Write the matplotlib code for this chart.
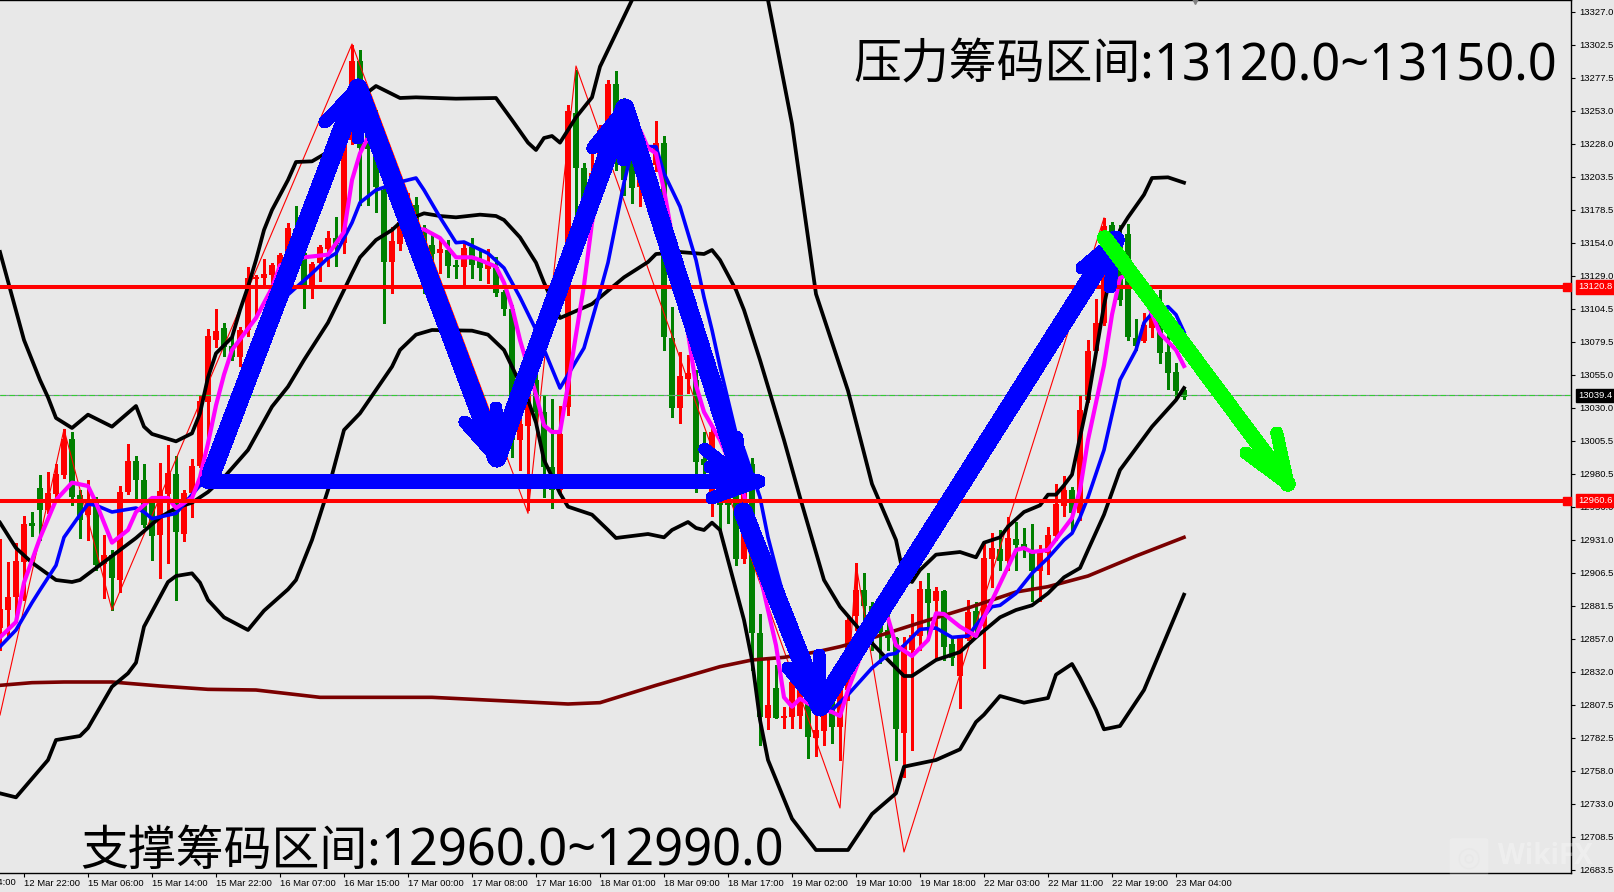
import matplotlib
matplotlib.use("Agg")
import matplotlib.pyplot as plt
from matplotlib.patches import FancyBboxPatch

plt.rcParams["font.family"] = ["Noto Sans CJK SC", "DejaVu Sans"]

# candles, one per bar (4h chart)
opens = [12865, 12878.5, 12888, 12914.5, 12944, 12970, 12953.5, 12965.5, 12980, 13007,
         12965, 12950, 12959, 12913, 12920, 12901, 12967, 12990, 12976, 12959,
         12935, 12965.5, 12980.5, 12935.5, 12966, 12986.5, 13034.5, 13081, 13090, 13076.5,
         13068, 13088.5, 13127, 13127.5, 13130, 13136, 13145, 13164, 13146, 13121.5,
         13139, 13149, 13157.5, 13154, 13231, 13290, 13238.5, 13223.5, 13193.5, 13139.5,
         13153, 13169, 13182, 13165, 13152, 13146, 13148.5, 13137, 13136, 13150.5,
         13141, 13134, 13136, 13117, 13104, 13006, 13016.5, 13051, 13027, 12986,
         12968.5, 13031, 13251, 13210, 13200, 13206, 13233, 13273, 13259.5, 13252,
         13196, 13208.5, 13212, 13229, 13082.5, 13030, 13052, 13051, 12992, 12961,
         12976, 12976, 12965, 12917, 12988, 12861, 12797.5, 12820, 12797.5, 12798,
         12799, 12809, 12782.5, 12788, 12811, 12791, 12818.5, 12874, 12893.5, 12881.5,
         12876, 12863.5, 12857.5, 12786, 12848.5, 12859, 12894, 12885, 12893, 12853,
         12829, 12857, 12878, 12866.5, 12917, 12924, 12915, 12932, 12928, 12921,
         12908, 12921, 12934, 12956.5, 12968.5, 12951, 13036, 13073, 13094, 13167,
         13160, 13160.5, 13082.5, 13080, 13090, 13094.5, 13072, 13057, 13043.5]
highs = [12932, 12914.5, 12929, 12949, 12952, 12980, 12982, 12988, 13014, 13012,
         12968.5, 12976, 12963, 12935, 12923.5, 12971.5, 13003, 12994, 12988, 12963,
         12989, 13002, 12994, 12968.5, 12992, 13040, 13089, 13104, 13094, 13085,
         13091, 13136, 13130, 13142, 13139, 13146, 13169, 13181.5, 13147, 13139.5,
         13152, 13163, 13173, 13235, 13302, 13298.5, 13266, 13253.5, 13196, 13166,
         13172.5, 13191, 13188, 13167, 13160, 13156, 13156, 13141, 13154, 13157.5,
         13148.5, 13149, 13143, 13118.5, 13107, 13027, 13049, 13058.5, 13039, 13037,
         13031.5, 13257, 13283.5, 13214, 13221, 13242, 13276, 13283, 13262.5, 13257,
         13231, 13220, 13245, 13234, 13106, 13072, 13070, 13058.5, 13012, 13017,
         12983.5, 12983.5, 12972, 12995, 12992.5, 12875.5, 12841, 12837, 12806, 12831,
         12826, 12818.5, 12800, 12811, 12818.5, 12833.5, 12875, 12914, 12906, 12884.5,
         12884, 12878.5, 12858, 12858, 12875.5, 12900, 12906, 12896, 12893.5, 12858,
         12860, 12886, 12884.5, 12930, 12936, 12938.5, 12948, 12944.5, 12940, 12943,
         12927, 12941, 12973, 12979, 12971, 13040, 13081, 13112, 13172.5, 13169.5,
         13167, 13168, 13097, 13101, 13107, 13118.5, 13086, 13064, 13045]
lows = [12848.5, 12858, 12869.5, 12886, 12934, 12931, 12951, 12961, 12977.5, 12957,
        12932.5, 12931, 12908.5, 12887.5, 12878.5, 12892, 12965.5, 12961, 12940.5, 12916,
        12902.5, 12914, 12886, 12930, 12948, 12986, 13003.5, 13076, 13069, 13066,
        13061.5, 13084, 13098, 13121, 13121, 13126, 13141, 13146, 13105, 13112.5,
        13125, 13136.5, 13136.5, 13146, 13228, 13182, 13182, 13177, 13094, 13116,
        13148.5, 13166, 13158, 13116, 13124, 13131, 13128, 13127.5, 13122, 13127.5,
        13126, 13124, 13114, 13100, 12993, 12983.5, 12953.5, 13017, 12963, 12955,
        12967, 13025, 13172.5, 13169, 13173, 13201, 13229, 13208.5, 13190, 13184,
        13181.5, 13206, 13208, 13073.5, 13023, 13019, 13041, 12967, 12981, 12949,
        12938.5, 12944, 12912, 12914, 12833.5, 12777, 12789, 12797.5, 12790, 12790,
        12790, 12767.5, 12769, 12777, 12779, 12766, 12811, 12863.5, 12856, 12848.5,
        12839, 12848.5, 12766, 12753, 12773.5, 12848.5, 12856, 12841, 12841, 12837,
        12805, 12856, 12858, 12835, 12895.5, 12908.5, 12908.5, 12908.5, 12918, 12885,
        12885, 12905.5, 12931, 12949, 12938.5, 12946, 13034.5, 13072, 13092, 13118.5,
        13107, 13081, 13073.5, 13079.5, 13083, 13064, 13044, 13038, 13037]
closes = [12879, 12888, 12915, 12943, 12941.5, 12953.5, 12966, 12980.5, 13007, 12963,
          12946, 12959, 12912, 12920, 12902.5, 12967, 12990, 12976, 12942, 12934,
          12967.5, 12981, 12937, 12966, 12986.5, 13035, 13084, 13088, 13076, 13068,
          13088.5, 13127.5, 13128, 13130.5, 13137, 13145, 13165, 13148.5, 13122, 13138,
          13151, 13157.5, 13153, 13231, 13290, 13225, 13224, 13196, 13139.5, 13155,
          13169.5, 13184, 13163.5, 13151.5, 13145.5, 13149, 13136.5, 13136, 13150, 13137,
          13135, 13139, 13116, 13104, 13006, 13018, 13041, 13027, 12986, 12968.5,
          13010.5, 13253, 13210, 13187, 13206, 13238.5, 13273, 13223.5, 13201, 13195,
          13223.5, 13212, 13229, 13083, 13030, 13054, 13056, 12989.5, 12987, 13012,
          12957, 12957, 12917, 12989, 12861, 12798, 12807, 12797.5, 12799, 12824.5,
          12818.5, 12783, 12788.5, 12806, 12791, 12818.5, 12871, 12893.5, 12881.5, 12865,
          12862, 12857.5, 12789, 12852, 12860, 12894, 12884, 12893, 12851, 12842.5,
          12857.5, 12877, 12863.5, 12917.5, 12925, 12915, 12932.5, 12927, 12923.5, 12908,
          12922, 12935, 12958, 12968.5, 12951, 13028.5, 13073, 13094, 13166.5, 13126,
          13111, 13083, 13076.5, 13092, 13101, 13071, 13056, 13043, 13038]

# indicator lines, (bar, price) at the bends
band_upper_x = [0, 3, 5, 6, 7, 9, 11, 14, 17, 18, 19, 22, 24, 25, 26, 27, 29, 30, 31, 32, 33, 34, 36, 37,
                39, 41, 46, 47, 50, 52, 57, 62, 64, 66, 67, 68, 69, 70, 72, 74, 75, 76, 79, 85, 92, 96,
                99, 102, 106, 109, 112, 113, 114, 115, 117, 120, 122, 123, 125, 126, 128, 130, 131, 132,
                133, 134, 136, 138, 140, 141, 143, 144, 146, 148]
band_upper_y = [13147, 13081, 13051, 13038, 13022.5, 13015, 13025, 13016, 13031.5, 13016, 13010.5, 13005,
                13011, 13026, 13053, 13071, 13083, 13103.5, 13121, 13141, 13163.5, 13178.5, 13201, 13214.5,
                13215, 13222, 13267, 13271.5, 13262.5, 13263, 13262, 13262.5, 13246, 13229, 13223.5,
                13232.5, 13234, 13229, 13248, 13263, 13286, 13298.5, 13336, 13441, 13381, 13336,
                13243, 13115.5, 13043, 12973, 12931, 12903, 12899.5, 12908.5, 12920, 12922, 12918, 12929,
                12933, 12941, 12952, 12957, 12965, 12965, 12972, 12980, 13036, 13107, 13163.5, 13173,
                13190, 13202.5, 13203, 13199]
band_mid_x = [0, 2, 4, 7, 9, 10, 13, 17, 20, 22, 24, 26, 28, 31, 34, 36, 38, 41, 43, 44, 45, 47, 49, 50,
              53, 55, 57, 60, 62, 63, 65, 67, 68, 70, 74, 78, 81, 82, 85, 88, 89, 90, 92, 93, 95, 98, 100,
              103, 105, 108, 111, 113, 114, 117, 120, 122, 125, 127, 129, 131, 133, 135, 136, 138, 140,
              144, 147, 148]
band_mid_y = [12944, 12925, 12914, 12901, 12899.5, 12901, 12914.5, 12932.5, 12948, 12955, 12959, 12967,
              12978, 12998.5, 13031, 13046, 13066, 13094, 13118.5, 13131, 13143, 13156, 13163.5, 13169,
              13176, 13174, 13173, 13175, 13174, 13171, 13158, 13139, 13124, 13097.5, 13108, 13128,
              13139.5, 13145.5, 13147, 13145.5, 13148.5, 13141, 13118.5, 13103.5, 13066, 13006, 12963,
              12901, 12881, 12860, 12841, 12829, 12829, 12841, 12847, 12858, 12873, 12878.5, 12882, 12891,
              12903, 12910, 12923.5, 12950, 12983.5, 13016, 13036, 13045]
band_lower_x = [0, 2, 6, 7, 10, 11, 14, 16, 17, 18, 21, 22, 24, 25, 26, 28, 31, 33, 36, 37, 39, 41, 43, 45,
                47, 49, 50, 52, 54, 59, 61, 63, 66, 67, 68, 70, 71, 74, 76, 77, 81, 83, 84, 86, 87, 88, 89,
                90, 92, 93, 94, 95, 96, 99, 102, 106, 109, 112, 113, 117, 120, 122, 123, 125, 128, 131, 132,
                134, 135, 137, 138, 140, 143, 148]
band_lower_y = [12741, 12738, 12766, 12781, 12784, 12790, 12821, 12831, 12839, 12866, 12899.5, 12904, 12906,
                12899, 12886, 12873, 12863.5, 12878, 12894, 12901, 12931, 12968.5, 13013.5, 13026, 13043.5,
                13061, 13073.5, 13085, 13088.5, 13088, 13085, 13073.5, 13036, 13019, 12991, 12966, 12956,
                12950, 12938.5, 12932.5, 12935.5, 12933, 12938.5, 12944.5, 12940, 12938.5, 12944, 12938.5,
                12893.5, 12871, 12841, 12796, 12766, 12722, 12698.5, 12698.5, 12725.5, 12741, 12761, 12766,
                12774, 12794.5, 12800, 12814, 12809, 12812.5, 12830, 12838, 12827.5, 12803.5, 12789, 12791.5,
                12818.5, 12890]
slow_ma_x = [0, 4, 8, 14, 20, 26, 32, 40, 54, 71, 75, 82, 90, 94, 98, 102, 105, 109, 115, 121, 127, 131,
             136, 142, 148]
slow_ma_y = [12822, 12824, 12824.5, 12824.5, 12821.5, 12819, 12818.5, 12813, 12813, 12808, 12809, 12822,
             12836, 12841, 12843, 12847, 12851, 12857.5, 12869, 12880, 12892, 12896, 12904, 12919, 12933]
fast_ma_x = [0, 2, 3, 5, 7, 9, 11, 12, 14, 16, 17, 19, 21, 22, 24, 25, 26, 27, 28, 29, 32, 34, 35, 38, 41,
             43, 44, 45, 46, 47, 49, 52, 53, 55, 57, 59, 60, 62, 63, 64, 65, 67, 68, 69, 70, 71, 72, 73,
             74, 76, 78, 80, 81, 82, 83, 85, 87, 88, 90, 93, 95, 96, 97, 98, 99, 100, 102, 104, 105, 106,
             108, 110, 111, 112, 114, 116, 117, 118, 120, 122, 123, 127, 128, 129, 131, 134, 135, 136,
             138, 139, 140, 141, 143, 145, 147, 148]
fast_ma_y = [12858, 12869.5, 12899, 12932.5, 12961, 12974, 12971.5, 12959, 12929, 12938.5, 12952, 12962.5,
             12962.5, 12955, 12962.5, 12978, 13003.5, 13032, 13055, 13073.5, 13097.5, 13120, 13137, 13143,
             13145, 13162, 13201, 13221, 13233, 13223.5, 13197, 13163.5, 13164, 13157.5, 13143, 13143,
             13141, 13136, 13124, 13106, 13081, 13040, 13017, 13012, 13012, 13047, 13085, 13122, 13169,
             13223.5, 13242, 13238.5, 13225, 13221, 13193.5, 13126, 13047, 13027, 13006, 12965, 12905,
             12878.5, 12852, 12813, 12806, 12812, 12805, 12802, 12799, 12818.5, 12851, 12871, 12872.5,
             12852, 12844, 12856, 12876, 12875.5, 12866, 12859, 12873, 12923.5, 12925, 12922, 12923.5,
             12947.5, 12968.5, 13006, 13062, 13100, 13127.5, 13130, 13115, 13086, 13073.5, 13061.5]
mid_ma_x = [0, 2, 4, 5, 7, 8, 10, 11, 12, 14, 17, 18, 19, 22, 25, 28, 32, 36, 39, 41, 42, 44, 45, 47, 50,
            52, 53, 55, 57, 58, 61, 63, 65, 67, 70, 73, 75, 76, 78, 79, 80, 82, 83, 85, 87, 88, 89, 90,
            91, 92, 93, 95, 96, 97, 98, 102, 104, 106, 109, 111, 112, 115, 117, 119, 121, 122, 124, 125,
            127, 129, 131, 133, 134, 135, 136, 138, 139, 140, 142, 143, 144, 146, 147, 148]
mid_ma_y = [12851, 12863.5, 12884, 12893.5, 12912, 12933, 12950, 12958, 12957, 12952, 12955, 12952, 12947,
            12951, 12972, 13013.5, 13073.5, 13115, 13131, 13142.5, 13146, 13169, 13184, 13193.5, 13199.5,
            13202.5, 13193.5, 13173, 13154, 13154.5, 13146, 13135, 13113, 13088.5, 13045, 13075, 13117,
            13139, 13199, 13223.5, 13226, 13226, 13206, 13181, 13141, 13113, 13088.5, 13061, 13036, 13011,
            12998.5, 12963, 12933, 12910, 12888, 12809, 12803.5, 12815, 12835, 12845, 12846, 12864, 12865,
            12858, 12859, 12867, 12881, 12882, 12891, 12906, 12917.5, 12931, 12936, 12948, 12963, 12998.5,
            13025, 13051, 13073.5, 13094, 13101, 13106, 13100, 13087]
zigzag_x = [0, 8, 14, 44, 66, 72, 105, 107, 113, 138]
zigzag_y = [12799.75, 13014, 12878.5, 13303, 12951, 13286.5, 12730, 12913, 12697, 13172.5]

resistance = 13120.8
support = 12960.6
last_price = 13039.4

# hand drawn arrows: tail, tip, two head strokes (bar, price), shaft width
blue_arrows = [
    ((26.4, 12980.5), (44.75, 13270), (40.6, 13244.5), (44.75, 13232.5), 13),
    ((44.75, 13270), (62.1, 12992.5), (58.1, 13019.5), (62, 13030), 13),
    ((62.1, 12992.5), (78.1, 13255), (74.1, 13225), (77.9, 13216), 13),
    ((78.1, 13255), (92.75, 12977.5), (88.1, 12999), (92.1, 13008), 13),
    ((25.75, 12975), (94.75, 12975), (89, 12962.5), (88.75, 12985.75), 9.5),
    ((92.9, 12952), (102.5, 12805.75), (98.5, 12835), (102.4, 12844.75), 13),
    ((102.5, 12805.75), (139.4, 13156), (135.25, 13135), (138.75, 13120.75), 13),
]
green_arrow = ((138.1, 13157.5), (161, 12973), (155.75, 12996.25), (159.6, 13011.25), 10.5)

price_ticks = [13327.0, 13302.5, 13277.5, 13253.0, 13228.0, 13203.5, 13178.5, 13154.0, 13129.0, 13104.5,
               13079.5, 13055.0, 13030.0, 13005.5, 12980.5, 12956.0, 12931.0, 12906.5, 12881.5, 12857.0,
               12832.0, 12807.5, 12782.5, 12758.0, 12733.0, 12708.5, 12683.5]
time_labels = ["12 Mar 14:00", "12 Mar 22:00", "15 Mar 06:00", "15 Mar 14:00", "15 Mar 22:00", "16 Mar 07:00",
               "16 Mar 15:00", "17 Mar 00:00", "17 Mar 08:00", "17 Mar 16:00", "18 Mar 01:00", "18 Mar 09:00",
               "18 Mar 17:00", "19 Mar 02:00", "19 Mar 10:00", "19 Mar 18:00", "22 Mar 03:00", "22 Mar 11:00",
               "22 Mar 19:00", "23 Mar 04:00"]

BG = "#e8e8e8"
W, H = 1615, 892
AXIS_FONT = ["Liberation Sans", "DejaVu Sans"]

fig = plt.figure(figsize=(W / 100, H / 100), dpi=100, facecolor=BG)
ax = fig.add_axes([0, 19 / H, 1571 / W, 873 / H], facecolor=BG)
ax.set_xlim(0, 1571 / 8)
ax.set_ylim(12681.25, 13336)

# candles
x = list(range(len(opens)))
colors = ["#ff0000" if c >= o else "#008000" for o, c in zip(opens, closes)]
ax.vlines(x, lows, highs, colors=colors, lw=0.8, antialiased=False, zorder=2)
ax.bar(x, [abs(c - o) for o, c in zip(opens, closes)], bottom=[min(o, c) for o, c in zip(opens, closes)],
       width=0.68, color=colors, linewidth=0, antialiased=False, zorder=3)

# indicators
ax.plot(zigzag_x, zigzag_y, color="#ff0000", lw=0.8, zorder=4)
ax.plot(slow_ma_x, slow_ma_y, color="#7a0000", lw=2.6, zorder=4)
for bx, by in [(band_upper_x, band_upper_y), (band_mid_x, band_mid_y), (band_lower_x, band_lower_y)]:
    ax.plot(bx, by, color="black", lw=2.7, zorder=5)
ax.plot(mid_ma_x, mid_ma_y, color="#0000ff", lw=2.6, zorder=6)
ax.plot(fast_ma_x, fast_ma_y, color="#ff00ff", lw=3, zorder=6)

# levels
ax.axhline(last_price, color="#808898", lw=0.8, zorder=4)
ax.axhline(last_price, color="#32cd32", lw=0.8, ls=(0, (5, 3)), zorder=4)
for level in (resistance, support):
    ax.axhline(level, color="#ff0000", lw=2.9, zorder=7)
    ax.plot([195.9], [level], marker="s", ms=6, color="#ff0000", clip_on=False, zorder=7)


def draw_arrow(arrow, color, zorder):
    tail, tip, arm1, arm2, width = arrow
    ax.plot([tail[0], tip[0]], [tail[1], tip[1]], color=color, lw=width, solid_capstyle="round",
            antialiased=False, zorder=zorder)
    for arm in (arm1, arm2):
        ax.plot([arm[0], tip[0]], [arm[1], tip[1]], color=color, lw=8.6, solid_capstyle="round",
                antialiased=False, zorder=zorder)


for arrow in blue_arrows:
    draw_arrow(arrow, "#0000ff", 8)
draw_arrow(green_arrow, "#00ff00", 9)

# axes
ax.spines["left"].set_visible(False)
for side in ("top", "right", "bottom"):
    ax.spines[side].set_linewidth(1.0)
ax.yaxis.tick_right()
ax.set_yticks(price_ticks)
ax.set_yticklabels([f"{p:.1f}" for p in price_ticks], fontsize=6.8, family=AXIS_FONT)
ax.tick_params(axis="y", length=3, width=0.8, pad=3)
tick_bars = [3 + 8 * k for k in range(19)]
ax.set_xticks(tick_bars)
ax.set_xticklabels(time_labels[1:], fontsize=6.8, family=AXIS_FONT, ha="left")
ax.tick_params(axis="x", length=3, width=0.8, pad=1.5)
ax.text(-5, -0.011, time_labels[0], transform=ax.get_xaxis_transform(), fontsize=6.8, family=AXIS_FONT,
        ha="left", va="center")

# price tags on the scale
ytrans = ax.get_yaxis_transform()
for level, face in [(resistance, "#ff0000"), (support, "#ff0000"), (last_price, "black")]:
    ax.text(1.0045, level, f"{level:.1f}", transform=ytrans, fontsize=6.8, family=AXIS_FONT, color="white",
            va="center", ha="left", zorder=10,
            bbox=dict(facecolor=face, edgecolor=face, boxstyle="square,pad=0.22"))

# small marker at the top edge
ax.plot([149.4], [13336], marker="v", ms=6, color="#808080", clip_on=False, zorder=3)

# headline texts, digits are set in a wider face than the Chinese
LATIN = ["Noto Sans", "DejaVu Sans"]
fig.text(853 / W, 1 - 65 / H, "压力筹码区间:", fontsize=34.5, color="black", ha="left", va="center")
fig.text(1153 / W, 1 - 67 / H, "13120.0~13150.0", fontsize=36.5, family=LATIN, color="black", ha="left", va="center")
fig.text(80 / W, 1 - 851 / H, "支撑筹码区间:", fontsize=34.5, color="black", ha="left", va="center")
fig.text(380 / W, 1 - 852 / H, "12960.0~12990.0", fontsize=36.5, family=LATIN, color="black", ha="left", va="center")

# watermark
fig.text(1498 / W, 1 - 857 / H, "WikiFX", fontsize=20, fontweight="bold", color="white", alpha=0.3,
         family=["Open Sans", "DejaVu Sans"], ha="left", va="center", zorder=20)
logo = FancyBboxPatch((1453 / W, 1 - 874 / H), 32 / W, 34 / H, boxstyle="round,pad=0.002", transform=fig.transFigure,
                      facecolor="white", edgecolor="none", alpha=0.2, zorder=20)
fig.add_artist(logo)
fig.text(1469 / W, 1 - 857 / H, "◎", fontsize=20, color="#e8e8e8", alpha=0.8, family=["DejaVu Sans"],
         ha="center", va="center", zorder=21)

fig.savefig("out.png", dpi=100, facecolor=BG)
